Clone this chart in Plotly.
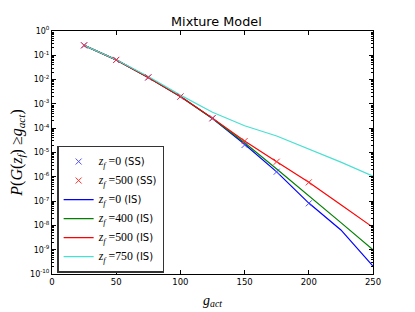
import plotly.graph_objects as go

# ---- data ----
x_ss = [25, 50, 75, 100, 125, 150, 175, 200]
ss_z0 = [0.257, 0.0646, 0.0123, 2.0e-3, 2.57e-4, 2.04e-5, 1.62e-6, 8.1e-8]
ss_z500 = [0.257, 0.0646, 0.0123, 2.0e-3, 2.57e-4, 2.95e-5, 4.17e-6, 5.9e-7]

x_is = [25, 50, 75, 100, 125, 150, 175, 200, 225, 250]
is_z0 = [0.257, 0.0646, 0.0123, 2.0e-3, 2.5e-4, 2.2e-5, 1.6e-6, 8.3e-8, 6.5e-9, 2.1e-10]
is_z400 = [0.257, 0.0646, 0.0123, 2.0e-3, 2.5e-4, 2.5e-5, 2.1e-6, 1.7e-7, 1.3e-8, 9.8e-10]
is_z500 = [0.257, 0.0646, 0.0123, 2.0e-3, 2.6e-4, 2.95e-5, 4.2e-6, 5.9e-7, 7.1e-8, 8.3e-9]
is_z750 = [0.257, 0.066, 0.0135, 2.3e-3, 4.5e-4, 1.26e-4, 4.8e-5, 1.4e-5, 4.0e-6, 1.07e-6]

x_ticks = [0, 50, 100, 150, 200, 250]
y_exps = list(range(0, -11, -1))

SERIF = "Liberation Serif"
SANS = "DejaVu Sans"


def zlab(v, kind):
    return (f'<span style="font-family:{SERIF};font-size:11.8px"><i>z<sub>f</sub></i> ={v}</span>'
            f' ({kind})')


fig = go.Figure()

lines = [(is_z0, 0, "#0000ff"), (is_z400, 400, "#008000"),
         (is_z500, 500, "#ff0000"), (is_z750, 750, "#48e0d2")]
for i, (vals, z, col) in enumerate(lines):
    fig.add_trace(go.Scatter(
        x=x_is, y=vals, mode="lines", name=zlab(z, "IS"),
        line=dict(color=col, width=1.2), legendrank=3 + i))

fig.add_trace(go.Scatter(
    x=x_ss, y=ss_z0, mode="markers", name=zlab(0, "SS"),
    marker=dict(symbol="x-thin", size=6, line=dict(color="#5050ff", width=1)),
    legendrank=1))
fig.add_trace(go.Scatter(
    x=x_ss, y=ss_z500, mode="markers", name=zlab(500, "SS"),
    marker=dict(symbol="x-thin", size=6, line=dict(color="#ff3030", width=1)),
    legendrank=2))

minor_vals = [m * 10 ** e for e in range(-10, 0) for m in range(2, 10)]

# page body adds an 8px offset, so the figure is 8px smaller than the window
W, H = 407, 304
fig.update_layout(
    width=W, height=H,
    margin=dict(l=44, r=42, t=23, b=38),
    paper_bgcolor="white", plot_bgcolor="white",
    font=dict(family=SANS, color="black", size=10),
    title=dict(text="Mixture Model", x=0.512, xanchor="center",
               y=1 - 14 / H, yanchor="middle", font=dict(size=12.8, family=SANS)),
    showlegend=True,
    legend=dict(x=0.016, y=0.006, xanchor="left", yanchor="bottom",
                bordercolor="#333333", borderwidth=1.5, bgcolor="white",
                font=dict(size=10, family=SANS), tracegroupgap=0,
                itemwidth=30),
    xaxis=dict(
        range=[0, 250], tickmode="array", tickvals=x_ticks,
        ticktext=[str(v) for v in x_ticks], automargin=False,
        ticks="inside", ticklen=4, tickcolor="black",
        showline=True, linecolor="black", linewidth=1, mirror="ticks",
        showgrid=False, zeroline=False, tickfont=dict(size=8.5),
        title=dict(text=f'<span style="font-family:{SERIF}"><i>g<sub>act</sub></i></span>',
                   font=dict(size=14), standoff=8),
    ),
    yaxis=dict(
        type="log", range=[-10, 0], tickmode="array", automargin=False,
        tickvals=[10.0 ** e for e in y_exps],
        ticktext=[f"10<sup>{e}</sup>" for e in y_exps],
        ticks="inside", ticklen=4, tickcolor="black",
        minor=dict(tickmode="array", tickvals=minor_vals, ticks="inside",
                   ticklen=2, tickcolor="black"),
        showline=True, linecolor="black", linewidth=1, mirror="ticks",
        showgrid=False, zeroline=False, tickfont=dict(size=8),
        title=dict(text=(f'<span style="font-family:{SERIF}"><i>P</i>(<i>G</i>(<i>z<sub>f</sub></i>)'
                         f' ≥<i>g<sub>act</sub></i>)</span>'),
                   font=dict(size=16), standoff=7),
    ),
)

fig.write_html("out.html")
